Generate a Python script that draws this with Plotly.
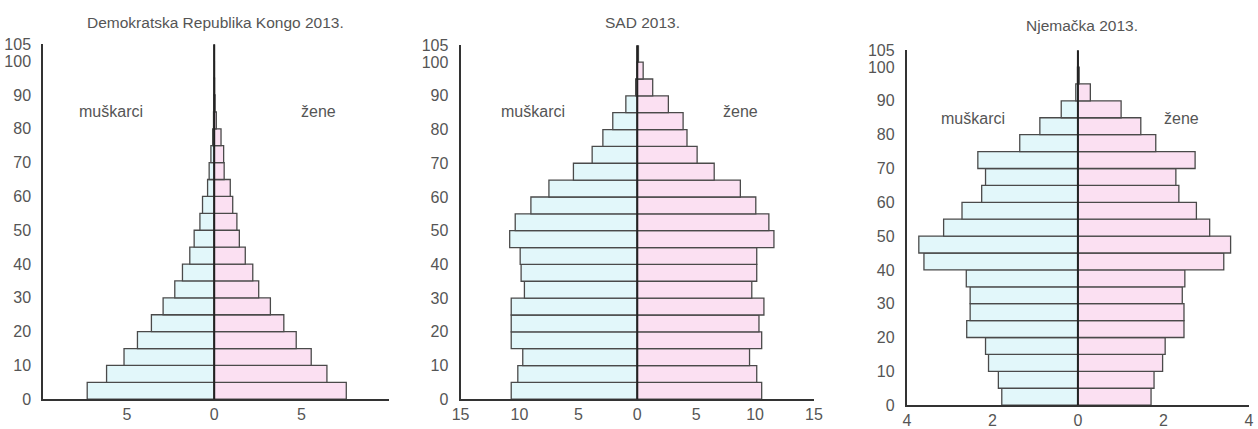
import plotly.graph_objects as go

# Age groups (start of each 5-year group), 0-4 ... 100+
ages = list(range(0, 105, 5))

# Demokratska Republika Kongo 2013 (% of population)
kongo_m = [7.28, 6.17, 5.17, 4.40, 3.60, 2.93, 2.26, 1.82, 1.40, 1.15, 0.82,
           0.67, 0.38, 0.29, 0.19, 0.09, 0.04, 0.02, 0.01, 0.0, 0.0]
kongo_f = [7.57, 6.46, 5.56, 4.70, 3.99, 3.22, 2.55, 2.21, 1.78, 1.44, 1.30,
           1.06, 0.92, 0.57, 0.54, 0.39, 0.12, 0.05, 0.02, 0.01, 0.0]

# SAD 2013 (in millions)
usa_m = [10.7, 10.14, 9.72, 10.7, 10.7, 10.7, 9.58, 9.86, 9.94, 10.83, 10.36,
         9.03, 7.5, 5.42, 3.83, 2.92, 2.08, 0.97, 0.14, 0.03, 0.0]
usa_f = [10.56, 10.14, 9.53, 10.56, 10.33, 10.75, 9.72, 10.14, 10.14, 11.6, 11.17,
         10.06, 8.75, 6.53, 5.08, 4.22, 3.89, 2.64, 1.31, 0.5, 0.1]

# Njemačka 2013 (in millions)
ger_m = [1.78, 1.86, 2.09, 2.16, 2.60, 2.52, 2.52, 2.61, 3.60, 3.72, 3.14,
         2.71, 2.25, 2.16, 2.34, 1.36, 0.89, 0.39, 0.05, 0.01, 0.0]
ger_f = [1.71, 1.78, 1.98, 2.04, 2.48, 2.48, 2.44, 2.50, 3.41, 3.57, 3.08,
         2.77, 2.36, 2.29, 2.74, 1.82, 1.47, 1.01, 0.29, 0.03, 0.0]

titles = ["Demokratska Republika Kongo 2013.", "SAD 2013.", "Njemačka 2013."]
label_m = "muškarci"
label_f = "žene"

x_ticks = [[-5, 0, 5], [-15, -10, -5, 0, 5, 10, 15], [-4, -2, 0, 2, 4]]
y_ticks = [0, 10, 20, 30, 40, 50, 60, 70, 80, 90, 100, 105]

MALE_C = "#e2f7fa"
FEMALE_C = "#fbe0f2"
EDGE = "#4a4a4a"
AXIS = "#333333"
TXT = "#555555"
FONT = "Liberation Sans, Arial, sans-serif"

W, H = 1258, 429

# observed page-to-picture mapping (picture = S * page + O)
SX, OX = 0.9873, 7.7
SY, OY = 0.9606, 7.9


def fx(X):
    """paper x fraction for a target picture x pixel"""
    return min(max((X - OX) / SX / W, 0.0), 1.0)


def fy(Y):
    """paper y fraction for a target picture y pixel (from top)"""
    return min(max(1 - (Y - OY) / SY / H, 0.0), 1.0)


# target picture layout of each panel: (x_left, x_right, y_bottom, y_top)
panels = [(42, 388, 408, 45), (460, 814, 408, 46), (907, 1250, 414, 51)]
x_ranges = [[-9.8, 10.0], [-15, 15], [-4.0, 4.0]]
data = [(kongo_m, kongo_f), (usa_m, usa_f), (ger_m, ger_f)]

fig = go.Figure()
ycenters = [a + 2.5 for a in ages]

for i, (m, f) in enumerate(data):
    xa = "x" if i == 0 else f"x{i+1}"
    ya = "y" if i == 0 else f"y{i+1}"
    fig.add_trace(go.Bar(
        x=[-v for v in m], y=ycenters, width=5, orientation="h",
        marker=dict(color=MALE_C, line=dict(color=EDGE, width=1.3)),
        xaxis=xa, yaxis=ya, showlegend=False, hoverinfo="skip"))
    fig.add_trace(go.Bar(
        x=f, y=ycenters, width=5, orientation="h",
        marker=dict(color=FEMALE_C, line=dict(color=EDGE, width=1.3)),
        xaxis=xa, yaxis=ya, showlegend=False, hoverinfo="skip"))

layout = dict(
    width=W, height=H, margin=dict(l=0, r=0, t=0, b=0),
    paper_bgcolor="white", plot_bgcolor="white",
    barmode="overlay", bargap=0,
    font=dict(family=FONT, color=TXT, size=16),
)

annotations = []
shapes = []
for i, (xl, xr, yb, yt) in enumerate(panels):
    sfx = "" if i == 0 else str(i + 1)
    layout[f"xaxis{sfx}"] = dict(
        domain=[fx(xl), fx(xr)], range=x_ranges[i], anchor=f"y{sfx}",
        tickvals=x_ticks[i], ticktext=[str(abs(v)) for v in x_ticks[i]],
        showgrid=False, zeroline=False, showline=True, linecolor=AXIS,
        linewidth=2, ticks="", tickfont=dict(size=16, color=TXT, family=FONT),
        ticklabelstandoff=0, fixedrange=True)
    layout[f"yaxis{sfx}"] = dict(
        domain=[fy(yb), fy(yt)], range=[0, 105], anchor=f"x{sfx}",
        tickvals=y_ticks, ticktext=[str(v) for v in y_ticks],
        showgrid=False, zeroline=False, showline=True, linecolor=AXIS,
        linewidth=2, ticks="", tickfont=dict(size=16, color=TXT, family=FONT),
        ticklabelstandoff=7, fixedrange=True)
    shapes.append(dict(type="line", xref=f"x{sfx}", yref=f"y{sfx}",
                       x0=0, x1=0, y0=0, y1=105, layer="above",
                       line=dict(color="#222222", width=2)))

title_pos = [(215, 23), (642, 23), (1082, 26)]
lab_pos = [((110, 114), (318, 114)), ((533, 114), (740, 114)), ((973, 121), (1182, 121))]
for i in range(3):
    tx, ty = title_pos[i]
    annotations.append(dict(text=titles[i], x=fx(tx), y=fy(ty), xref="paper",
                            yref="paper", showarrow=False, xanchor="center",
                            yanchor="middle", font=dict(size=15.5, color=TXT, family=FONT)))
    (mx, my), (fx_, fy_) = lab_pos[i]
    annotations.append(dict(text=label_m, x=fx(mx), y=fy(my), xref="paper",
                            yref="paper", showarrow=False, xanchor="center",
                            yanchor="middle", font=dict(size=16, color=TXT, family=FONT)))
    annotations.append(dict(text=label_f, x=fx(fx_), y=fy(fy_), xref="paper",
                            yref="paper", showarrow=False, xanchor="center",
                            yanchor="middle", font=dict(size=16, color=TXT, family=FONT)))

layout["annotations"] = annotations
layout["shapes"] = shapes
fig.update_layout(**layout)
fig.write_html(
    "out.html",
    config={"displayModeBar": False, "staticPlot": True},
    post_script="document.body.style.margin='0';document.body.style.padding='0';",
)
